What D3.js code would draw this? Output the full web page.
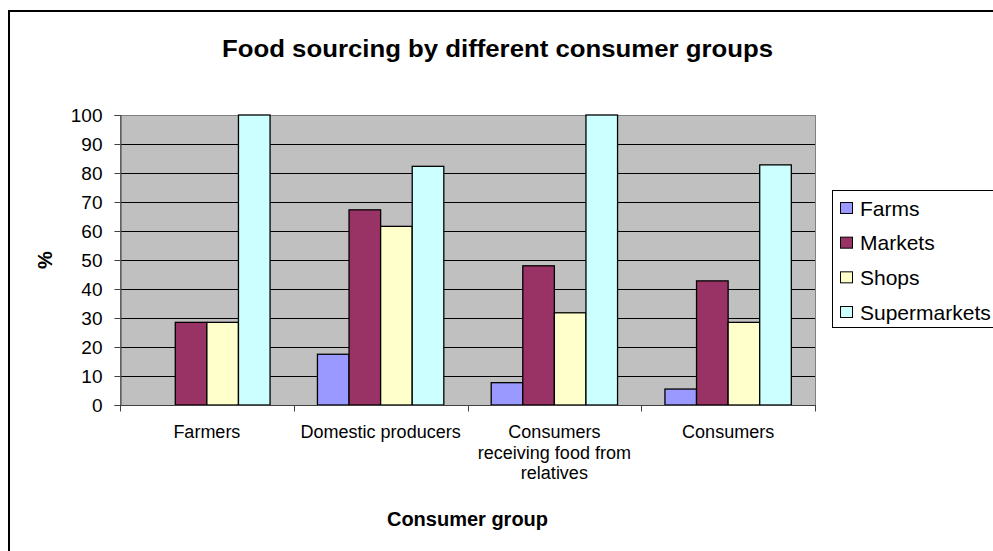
<!DOCTYPE html>
<html>
<head>
<meta charset="utf-8">
<script src="https://cdn.jsdelivr.net/npm/d3@7"></script>
<style>
  body { margin: 0; background: #fff; }
  svg { display: block; }
  text { font-family: Arial, "Liberation Sans", sans-serif; fill: #000; }
</style>
</head>
<body>
<svg id="chart" width="993" height="551"></svg>
<script>
// ---- data ----
const categories = ["Farmers", "Domestic producers", "Consumers receiving food from relatives", "Consumers"];
const categoryLabelLines = [["Farmers"], ["Domestic producers"], ["Consumers", "receiving food from", "relatives"], ["Consumers"]];
const seriesNames = ["Farms", "Markets", "Shops", "Supermarkets"];
const farms        = [0, 17.5, 7.7, 5.5];
const markets      = [28.5, 67.3, 48, 42.8];
const shops        = [28.5, 61.6, 31.8, 28.5];
const supermarkets = [100, 82.3, 100, 82.8];
const seriesColors = ["#9999FF", "#993366", "#FFFFCC", "#CCFFFF"];
const yTicks = [0, 10, 20, 30, 40, 50, 60, 70, 80, 90, 100];
const titleText = "Food sourcing by different consumer groups";
const xTitle = "Consumer group";
const yTitle = "%";

const seriesValues = [farms, markets, shops, supermarkets];

const svg = d3.select("#chart");

// outer chart border
svg.append("rect")
  .attr("x", 9).attr("y", 11).attr("width", 1000).attr("height", 600)
  .attr("fill", "#fff").attr("stroke", "#000").attr("stroke-width", 2);

const plot = { left: 120, right: 815, top: 115, bottom: 405 };

const y = d3.scaleLinear().domain([0, 100]).range([plot.bottom, plot.top]);
const x0 = d3.scaleBand().domain(categories).range([plot.left, plot.right]).padding(0);
const gap = x0.bandwidth() * 0.75 / 5.5;
const x1 = d3.scaleBand().domain(seriesNames).range([gap, x0.bandwidth() - gap]).padding(0);

// plot background
svg.append("rect")
  .attr("x", plot.left).attr("y", plot.top)
  .attr("width", plot.right - plot.left).attr("height", plot.bottom - plot.top)
  .attr("fill", "#C0C0C0");

// gridlines
svg.append("g").selectAll("line").data(yTicks.filter(t => t > 0)).join("line")
  .attr("x1", plot.left).attr("x2", plot.right)
  .attr("y1", d => Math.round(y(d)) + 0.5).attr("y2", d => Math.round(y(d)) + 0.5)
  .attr("stroke", "#000").attr("stroke-width", 1);

// plot border (gray)
svg.append("rect")
  .attr("x", plot.left + 0.5).attr("y", plot.top + 0.5)
  .attr("width", plot.right - plot.left).attr("height", plot.bottom - plot.top)
  .attr("fill", "none").attr("stroke", "#808080").attr("stroke-width", 1);

// bars
const rows = [];
categories.forEach((c, i) => seriesNames.forEach((s, j) => rows.push({ c, s, v: seriesValues[j][i], color: seriesColors[j] })));
svg.append("g").selectAll("rect").data(rows.filter(d => d.v > 0)).join("rect")
  .attr("x", d => x0(d.c) + x1(d.s))
  .attr("y", d => y(d.v))
  .attr("width", x1.bandwidth())
  .attr("height", d => y(0) - y(d.v))
  .attr("fill", d => d.color)
  .attr("stroke", "#000").attr("stroke-width", 1.3);

// y axis
const yAxis = d3.axisLeft(y).tickValues(yTicks).tickSize(6).tickPadding(12).tickFormat(d3.format("d"));
const gy = svg.append("g").attr("transform", `translate(${plot.left + 0.5},0)`).call(yAxis);
gy.select(".domain").attr("stroke", "#404040");
gy.selectAll(".tick line").attr("stroke", "#404040");
gy.selectAll(".tick text").style("font-size", "19px").attr("fill", "#000");

// x axis
const boundaries = categories.map(c => x0(c)).concat([plot.right]);
const gx = svg.append("g").attr("transform", `translate(0,${plot.bottom + 0.5})`);
gx.append("line").attr("x1", plot.left).attr("x2", plot.right + 1)
  .attr("stroke", "#404040");
gx.selectAll("line.tk").data(boundaries).join("line").attr("class", "tk")
  .attr("x1", d => Math.round(d) + 0.5).attr("x2", d => Math.round(d) + 0.5)
  .attr("y1", 0).attr("y2", 6).attr("stroke", "#404040");

// category labels
svg.append("g").selectAll("text").data(categories).join("text")
  .attr("x", d => x0(d) + x0.bandwidth() / 2)
  .attr("y", 438)
  .attr("text-anchor", "middle")
  .style("font-size", "18px")
  .each(function (d, i) {
    d3.select(this).selectAll("tspan").data(categoryLabelLines[i]).join("tspan")
      .attr("x", x0(d) + x0.bandwidth() / 2)
      .attr("dy", (t, k) => k === 0 ? 0 : 20.5)
      .text(t => t);
  });

// title
svg.append("text")
  .attr("x", 497.5).attr("y", 57)
  .attr("text-anchor", "middle")
  .style("font-size", "24px").style("font-weight", "bold")
  .attr("textLength", 551).attr("lengthAdjust", "spacingAndGlyphs")
  .text(titleText);

// x title
svg.append("text")
  .attr("x", (plot.left + plot.right) / 2).attr("y", 526)
  .attr("text-anchor", "middle")
  .style("font-size", "20px").style("font-weight", "bold")
  .text(xTitle);

// y title
svg.append("text")
  .attr("transform", `translate(52,260) rotate(-90)`)
  .attr("text-anchor", "middle")
  .style("font-size", "20px").style("font-weight", "bold")
  .text(yTitle);

// legend
const legend = svg.append("g");
legend.append("rect")
  .attr("x", 832.5).attr("y", 190.5).attr("width", 200).attr("height", 137)
  .attr("fill", "#fff").attr("stroke", "#000").attr("stroke-width", 1);
const ly = d3.scalePoint().domain(seriesNames).range([208, 312]);
const li = legend.selectAll("g.item").data(seriesNames).join("g").attr("class", "item");
li.append("rect")
  .attr("x", 840.5).attr("y", d => ly(d) - 5.5)
  .attr("width", 12).attr("height", 11)
  .attr("fill", (d, i) => seriesColors[i]).attr("stroke", "#000").attr("stroke-width", 1);
li.append("text")
  .attr("x", 860).attr("y", d => ly(d))
  .attr("dy", "0.36em")
  .style("font-size", "21px")
  .text(d => d);
</script>
</body>
</html>
